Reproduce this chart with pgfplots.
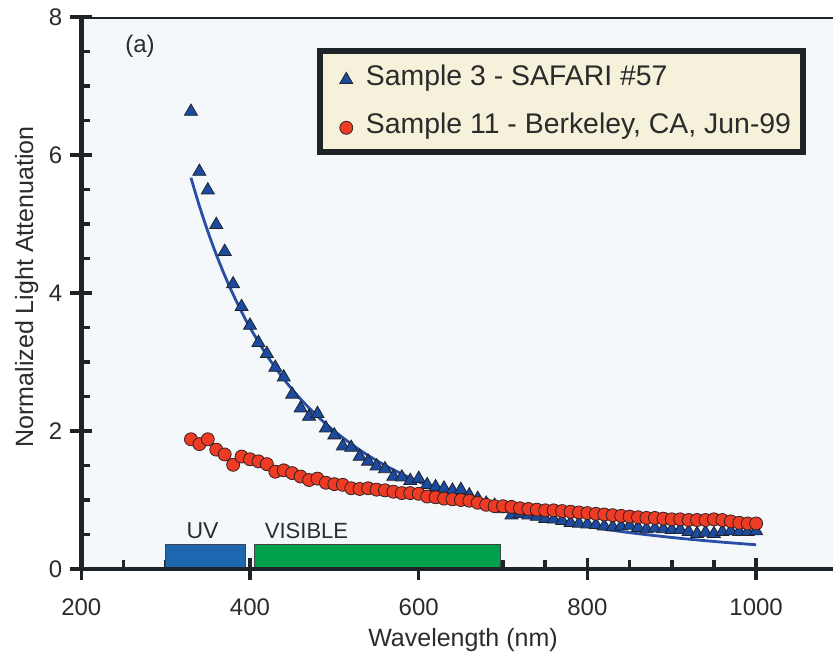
\documentclass[border=0pt]{standalone}
\usepackage{fontspec}
\setmainfont{Liberation Sans}
\usepackage{pgfplots}
\pgfplotsset{compat=1.18}
\definecolor{axbg}{HTML}{F4F8FA}
\definecolor{legbg}{HTML}{F6F1DA}
\definecolor{triblue}{HTML}{1B4A9E}
\definecolor{lineblue}{HTML}{2A4EA6}
\definecolor{circred}{HTML}{EE3B24}
\definecolor{uvblue}{HTML}{1F66B0}
\definecolor{visgreen}{HTML}{00A14B}
\definecolor{axblack}{HTML}{1E2328}
\definecolor{txt}{HTML}{2B2B2B}
\begin{document}
\begin{tikzpicture}
\path[use as bounding box] (-81.3pt,-82pt) rectangle (751.7pt,569pt);
\begin{axis}[
  scale only axis, width=752pt, height=552pt,
  at={(0pt,0pt)}, anchor=south west,
  xmin=200, xmax=1091.5, ymin=0, ymax=8,
  axis x line*=bottom, axis y line*=left,
  axis line style={line width=4.5pt, color=axblack},
  axis background/.style={fill=axbg},
  xtick={200,400,600,800,1000}, ytick={0,2,4,6,8},
  minor x tick num=3, minor y tick num=3,
  tick align=inside,
  major tick length=11pt, minor tick length=9pt,
  every tick/.append style={line width=3.5pt, color=axblack},
  every major tick/.append style={line width=3.5pt, color=axblack},
  every minor tick/.append style={line width=3.5pt, color=axblack},
  extra x ticks={200,400,600,800,1000}, extra x tick labels={},
  extra y ticks={0,2,4,6,8}, extra y tick labels={},
  extra tick style={tick align=outside, major tick length=11pt, every major tick/.append style={line width=3.5pt, color=axblack}},
  /pgf/number format/assume math mode=true,
  /pgf/number format/1000 sep={},
  xticklabel style={font=\fontsize{24}{28}\selectfont, text=txt, inner sep=0pt, anchor=north, yshift=-30pt},
  yticklabel style={font=\fontsize{24}{28}\selectfont, text=txt, inner sep=0pt, anchor=east, xshift=-19pt},
  xlabel={Wavelength (nm)},
  ylabel={Normalized Light Attenuation},
  xlabel style={font=\fontsize{25}{30}\selectfont, text=txt, at={(axis description cs:0.5076,-0.1395)}, anchor=base, inner sep=0pt},
  ylabel style={font=\fontsize{25}{30}\selectfont, text=txt, at={(axis description cs:-0.0642,0.511)}, anchor=base, inner sep=0pt},
  legend style={at={(0.3138,0.9433)}, anchor=north west, draw=axblack, line width=6pt, fill=legbg,
    inner xsep=12pt, inner ysep=13pt, row sep=21pt, text=txt,
    font=\fontsize{28.4}{34}\selectfont,
    nodes={inner sep=0pt, text height=21pt, text depth=6pt}},
  legend cell align=left,
  legend image code/.code={\path (-11pt,0pt) (16.7pt,0pt); \draw plot coordinates {(0pt,-2pt)};},
]
\addplot[forget plot, draw=axblack!85, line width=1.2pt, fill=uvblue] coordinates {(300,0) (300,0.35) (395,0.35) (395,0)} --cycle;
\addplot[forget plot, draw=axblack!85, line width=1.2pt, fill=visgreen] coordinates {(405,0) (405,0.35) (697,0.35) (697,0)} --cycle;
\addplot[forget plot, lineblue, line width=2.8pt, smooth, no markers] coordinates {
(330,5.670) (340,5.261) (350,4.892) (360,4.558) (370,4.255) (380,3.979) (390,3.728) (400,3.498)
(420,3.095) (440,2.754) (460,2.463) (480,2.214) (500,1.998) (530,1.726) (560,1.503) (600,1.264)
(650,1.034) (700,0.859) (750,0.722) (800,0.614) (850,0.527) (900,0.457) (950,0.399) (1000,0.351)};
\addplot[only marks, mark=triangle*, mark size=7.5pt, mark options={fill=triblue, draw=axblack, line width=0.8pt}] coordinates {
(330,6.63) (340,5.76) (350,5.49) (360,4.99) (370,4.60) (380,4.13) (390,3.80) (400,3.53)
(410,3.28) (420,3.12) (430,2.92) (440,2.78) (450,2.53) (460,2.33) (470,2.21) (480,2.25)
(490,2.04) (500,1.94) (510,1.78) (520,1.76) (530,1.63) (540,1.56) (550,1.49) (560,1.45)
(570,1.34) (580,1.33) (590,1.28) (600,1.31) (610,1.22) (620,1.19) (630,1.17) (640,1.14)
(650,1.15) (660,1.07) (670,1.02) (680,0.95) (690,0.92) (700,0.87) (710,0.78) (720,0.80)
(730,0.78) (740,0.76) (750,0.73) (760,0.72) (770,0.70) (780,0.67) (790,0.66) (800,0.65)
(810,0.64) (820,0.62) (830,0.61) (840,0.62) (850,0.63) (860,0.60) (870,0.58) (880,0.59)
(890,0.58) (900,0.57) (910,0.57) (920,0.54) (930,0.51) (940,0.53) (950,0.51) (960,0.54)
(970,0.55) (980,0.54) (990,0.54) (1000,0.55)};
\addlegendentry{Sample 3 - SAFARI \#57}
\addplot[only marks, mark=*, mark size=6.5pt, mark options={fill=circred, draw=axblack!90!red, line width=0.8pt}] coordinates {
(330,1.88) (340,1.81) (350,1.88) (360,1.73) (370,1.66) (380,1.51) (390,1.63) (400,1.59)
(410,1.56) (420,1.52) (430,1.41) (440,1.43) (450,1.39) (460,1.34) (470,1.29) (480,1.31)
(490,1.25) (500,1.23) (510,1.22) (520,1.17) (530,1.16) (540,1.17) (550,1.15) (560,1.14)
(570,1.12) (580,1.10) (590,1.10) (600,1.09) (610,1.05) (620,1.04) (630,1.02) (640,1.01)
(650,1.00) (660,0.99) (670,0.96) (680,0.93) (690,0.91) (700,0.91) (710,0.90) (720,0.88)
(730,0.87) (740,0.86) (750,0.85) (760,0.85) (770,0.84) (780,0.83) (790,0.82) (800,0.81)
(810,0.80) (820,0.79) (830,0.78) (840,0.77) (850,0.76) (860,0.75) (870,0.74) (880,0.74)
(890,0.73) (900,0.72) (910,0.72) (920,0.71) (930,0.71) (940,0.71) (950,0.72) (960,0.71)
(970,0.69) (980,0.67) (990,0.66) (1000,0.66)};
\addlegendentry{Sample 11 - Berkeley, CA, Jun-99}
\draw[line width=4.5pt, axblack, line cap=rect] (rel axis cs:0,1) -- (rel axis cs:1,1);
\draw[line width=4.5pt, axblack] (rel axis cs:0,0) -- (rel axis cs:0,1);
\draw[line width=4.5pt, axblack] (rel axis cs:0,0) -- (rel axis cs:1,0);
\node[font=\fontsize{24}{28}\selectfont, text=txt, anchor=base, inner sep=0pt] at (axis cs:269.6,7.48) {(a)};
\node[font=\fontsize{23}{27}\selectfont, text=txt, anchor=base, inner sep=0pt] at (axis cs:343.7,0.445) {UV};
\node[font=\fontsize{22}{26}\selectfont, text=txt, anchor=base, inner sep=0pt] at (axis cs:467,0.445) {VISIBLE};
\end{axis}
\end{tikzpicture}
\end{document}
